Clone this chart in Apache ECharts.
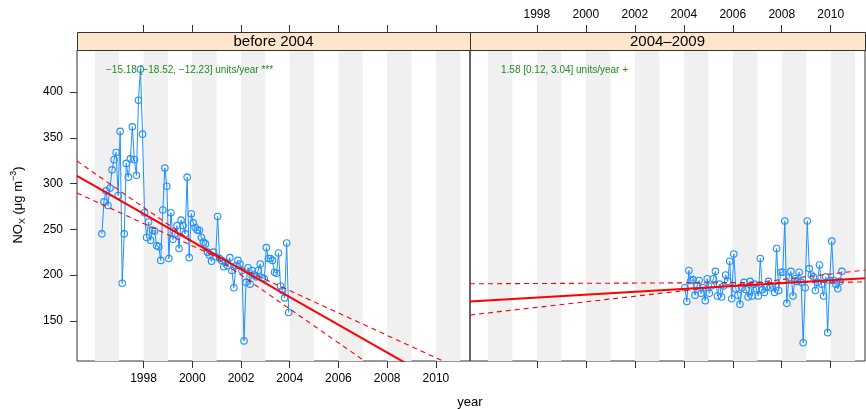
<!DOCTYPE html>
<html><head><meta charset="utf-8">
<script src="https://cdn.jsdelivr.net/npm/echarts@6/dist/echarts.min.js"></script>
<style>html,body{margin:0;padding:0;background:#fff}#c{width:866px;height:409px}</style>
</head><body><div id="c"></div>
<script>
// ---------- data ----------
const panelTitles = ['before 2004', '2004\u20132009'];
const beforeStart = [1996, 4];           // first month of the "before 2004" series
const beforeValues = [
  245, 280, 292, 276, 295, 315, 326, 334, 287,                 // 1996 Apr-Dec
  357, 191, 245, 322, 307, 327, 362, 326, 309, 391, 425, 354,  // 1997
  268, 241, 258, 238, 249, 248, 232, 231, 216, 271, 317, 297,  // 1998
  218, 268, 239, 245, 254, 229, 260, 254, 245, 307, 219, 267,  // 1999
  257, 252, 249, 249, 241, 236, 234, 225, 222, 215, 225, 220,  // 2000
  264, 218, 216, 209, 214, 210, 219, 205, 186, 210, 216, 212,  // 2001
  205, 128, 192, 208, 190, 205, 200, 198, 205, 212, 197, 196,  // 2002
  230, 218, 218, 216, 203, 202, 224, 188, 183, 175, 235, 159   // 2003
];
const afterStart = [2004, 1];
const afterValues = [
  186, 171, 205, 194, 195, 178, 188, 194, 180, 186, 172, 196,  // 2004
  180, 188, 196, 204, 177, 190, 176, 188, 200, 193, 215, 174,  // 2005
  223, 185, 178, 168, 186, 192, 184, 176, 193, 177, 190, 185,  // 2006
  177, 218, 184, 181, 187, 193, 186, 188, 181, 229, 183, 203,  // 2007
  203, 259, 169, 197, 204, 177, 196, 193, 203, 192, 126, 186,  // 2008
  259, 207, 200, 198, 183, 192, 211, 190, 177, 198, 137, 194,  // 2009
  237, 194, 190, 185, 193, 204                                 // 2010
];
// Theil-Sen trend: [slope, lower slope, upper slope] and fitted level at refYear for each line
const slopesBefore = [-15.18, -18.52, -12.23];
const levelsBefore = [236.7, 237.0, 231.9];
const slopesAfter = [1.58, 0.12, 3.04];
const levelsAfter = [189.5, 191.8, 192.0];
const refYears = [2000, 2007];
const signifs = ['***', '+'];
const yearTicks = [1998, 2000, 2002, 2004, 2006, 2008, 2010];
const noxTicks = [150, 200, 250, 300, 350, 400];
const shadedYears = [1996, 1998, 2000, 2002, 2004, 2006, 2008, 2010];

// ---------- chart ----------
const XMIN = 1995.27, XMAX = 2011.40, YMIN = 106, YMAX = 446;
const FONT = '"Liberation Sans", Arial, Helvetica, sans-serif';
const BLUE = '#1E90FF', RED = '#FF0000', GREEN = '#228B22', FRAME = '#333333';

function toPairs(start, vals) {
  return vals.map((v, i) => [start[0] + (start[1] - 0.5 + i) / 12, v]);
}
function fmt(n) { return (n < 0 ? '\u2212' : '') + Math.abs(n).toFixed(2); }
function trendLine(slope, level, ref) {
  return [[XMIN, level + slope * (XMIN - ref)], [XMAX, level + slope * (XMAX - ref)]];
}

const grids = [
  {left: 77, top: 50, width: 393, height: 311},
  {left: 470, top: 50, width: 395, height: 311}
];

function xAx(grid, pos, labels) {
  return {
    type: 'value', gridIndex: grid, min: XMIN, max: XMAX, position: pos,
    offset: pos === 'top' ? 18 : 0,
    axisLine: {show: false},
    splitLine: {show: false},
    axisTick: {show: true, customValues: yearTicks, length: 7, lineStyle: {color: FRAME, width: 1}},
    axisLabel: {show: labels, customValues: yearTicks, margin: pos === 'top' ? 11 : 12,
      formatter: v => String(v), fontSize: 12, color: '#000', fontFamily: FONT}
  };
}

// xAxis order: 0 = grid0 bottom, 1 = grid1 bottom, 2 = grid0 top, 3 = grid1 top
const bandSeries = (gi) => ({
  type: 'line', xAxisIndex: gi, yAxisIndex: gi, z: 0, silent: true,
  data: [], symbol: 'none',
  markArea: {
    silent: true,
    itemStyle: {color: '#F0F0F0'},
    data: shadedYears.map(y => [{xAxis: y}, {xAxis: Math.min(y + 1, XMAX)}])
  }
});

const dataSeries = (gi, pairs) => ({
  type: 'line', xAxisIndex: gi, yAxisIndex: gi, z: 4, data: pairs,
  symbol: 'circle', symbolSize: 6.5, showAllSymbol: true,
  itemStyle: {color: 'rgba(255,255,255,0)', borderColor: BLUE, borderWidth: 1.1},
  lineStyle: {color: BLUE, width: 1}
});

const trendSeries = (gi, slopes, levels, ref) => slopes.map((s, k) => ({
  type: 'line', xAxisIndex: gi, yAxisIndex: gi, z: 5, clip: true,
  data: trendLine(s, levels[k], ref), symbol: 'none',
  lineStyle: k === 0 ? {color: RED, width: 2} : {color: RED, width: 1.1, type: [5, 4]}
}));

const stripGraphics = [];
grids.forEach((g, i) => {
  stripGraphics.push({type: 'rect', shape: {x: g.left + 0.5, y: 32.5, width: g.width, height: 18},
      style: {fill: '#FFE5CC', stroke: FRAME, lineWidth: 1}, z: 10});
  stripGraphics.push({type: 'text', x: g.left + g.width / 2, y: 41.5, z: 11,
      style: {text: panelTitles[i], fontSize: 15, fontFamily: FONT, fill: '#000',
        align: 'center', verticalAlign: 'middle'}});
});

const annot = [
  {slopes: slopesBefore, x: 106, sig: signifs[0]},
  {slopes: slopesAfter, x: 501, sig: signifs[1]}
].map(a => ({
  type: 'text', x: a.x, y: 70, z: 12,
  style: {text: fmt(a.slopes[0]) + ' [' + fmt(a.slopes[1]) + ', ' + fmt(a.slopes[2]) + '] units/year ' + a.sig,
    fontSize: 10, fontFamily: FONT, fill: GREEN, align: 'left', verticalAlign: 'middle'}
}));

const option = {
  animation: false,
  backgroundColor: '#fff',
  grid: grids.map(g => Object.assign({show: true, borderColor: FRAME, borderWidth: 1, backgroundColor: 'transparent'}, g)),
  xAxis: [xAx(0, 'bottom', true), xAx(1, 'bottom', false), xAx(0, 'top', false), xAx(1, 'top', true)],
  yAxis: [
    {type: 'value', gridIndex: 0, min: YMIN, max: YMAX, axisLine: {show: false}, splitLine: {show: false},
      axisTick: {show: true, customValues: noxTicks, length: 7, lineStyle: {color: FRAME}},
      axisLabel: {customValues: noxTicks, margin: 14, fontSize: 12, color: '#000', fontFamily: FONT,
        formatter: v => String(v)}},
    {type: 'value', gridIndex: 1, min: YMIN, max: YMAX, axisLine: {show: false}, splitLine: {show: false},
      axisTick: {show: false}, axisLabel: {show: false}}
  ],
  series: [
    bandSeries(0), bandSeries(1),
    dataSeries(0, toPairs(beforeStart, beforeValues)),
    dataSeries(1, toPairs(afterStart, afterValues))
  ].concat(trendSeries(0, slopesBefore, levelsBefore, refYears[0]))
   .concat(trendSeries(1, slopesAfter, levelsAfter, refYears[1])),
  graphic: {elements: stripGraphics.concat(annot).concat([
    {type: 'text', x: 18, y: 205, rotation: Math.PI / 2, z: 12,
      style: {text: '{a|NO}{s|X}{a| (\u03BCg m}{p|\u22123}{a|)}', align: 'center', verticalAlign: 'middle',
        fontFamily: FONT, fill: '#000',
        rich: {
          a: {fontSize: 13, lineHeight: 18, fontFamily: FONT},
          s: {fontSize: 9, lineHeight: 10, verticalAlign: 'bottom', fontFamily: FONT},
          p: {fontSize: 9, lineHeight: 10, verticalAlign: 'top', fontFamily: FONT}
        }}},
    {type: 'text', x: 470, y: 402, z: 12,
      style: {text: 'year', fontSize: 13, fontFamily: FONT, fill: '#000', align: 'center', verticalAlign: 'middle'}}
  ])}
};

const chart = echarts.init(document.getElementById('c'), null, {renderer: 'canvas'});
chart.setOption(option);
</script>
</body></html>
